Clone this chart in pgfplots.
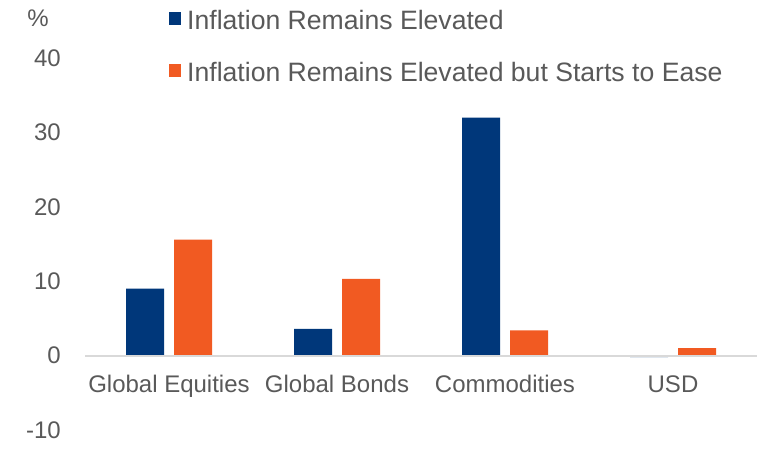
\documentclass[border=0pt]{standalone}
\usepackage{pgfplots}
\pgfplotsset{compat=1.18}
\usepackage{fontspec}
\setmainfont{Liberation Sans}
\definecolor{cblue}{HTML}{00377A}
\definecolor{corange}{HTML}{F15A22}
\definecolor{ctext}{HTML}{595959}
\definecolor{czero}{HTML}{D9D9D9}
\begin{document}
\begin{tikzpicture}
\useasboundingbox (0,0) rectangle (780pt,449pt);
\begin{axis}[
  at={(85pt,19pt)}, anchor=south west,
  scale only axis, width=672pt, height=372pt,
  xmin=-0.5, xmax=3.5, ymin=-10, ymax=40,
  ybar=10pt, bar width=38pt,
  axis line style={draw=none},
  major tick length=0pt,
  xtick={0,1,2,3},
  xticklabels={Global Equities,Global Bonds,Commodities,USD},
  ytick={-10,0,10,20,30,40},
  /pgf/number format/assume math mode=true,
  ticklabel style={font=\fontsize{24}{28}\selectfont, text=ctext},
  yticklabel style={inner sep=0pt, anchor=east, xshift=-24pt},
  xticklabel style={inner sep=0pt, anchor=base, yshift=37pt},
  ylabel={\%},
  every axis y label/.style={at={(axis description cs:-0.07,1.1075)}, anchor=center,
    font=\fontsize{24}{28}\selectfont, text=ctext},
  legend image code/.code={\fill[#1, draw=none] (0pt,-5pt) rectangle (12pt,8pt);},
  legend cell align=left,
  legend style={at={(0.125,1.129)}, anchor=north west, draw=none, fill=none,
    inner sep=0pt, row sep=33pt,
    font=\fontsize{26.6}{30}\selectfont, text=ctext,
    nodes={inner sep=0pt, text height=19pt, text depth=0pt},
    /tikz/every odd column/.append style={column sep=6pt}},
  clip=false,
]
\addplot[fill=cblue, draw=none] coordinates {(0,9.0) (1,3.6) (2,32.0) (3,-0.2)};
\addplot[fill=corange, draw=none] coordinates {(0,15.6) (1,10.3) (2,3.4) (3,1.0)};
\legend{Inflation Remains Elevated, Inflation Remains Elevated but Starts to Ease}
\draw[czero, line width=2pt] (axis cs:-0.5,0) -- (axis cs:3.5,0);
\end{axis}
\end{tikzpicture}
\end{document}
